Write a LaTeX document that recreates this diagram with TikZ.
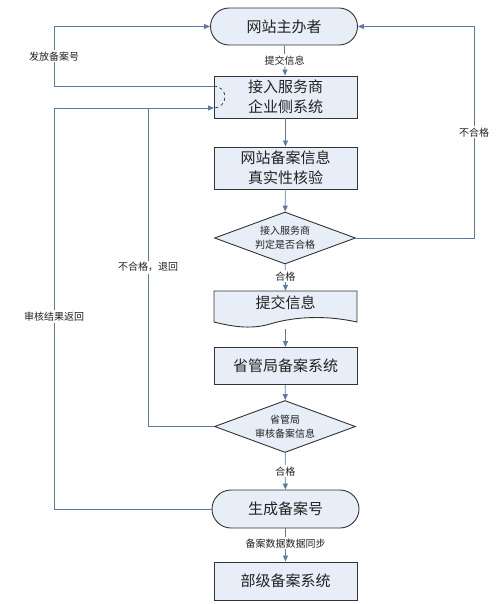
\documentclass[tikz,border=0pt]{standalone}
\usepackage{fontspec}
\setmainfont{Noto Sans CJK SC}
\usetikzlibrary{arrows.meta,shapes.geometric}
\definecolor{boxfill}{HTML}{E8EEF7}
\definecolor{edgecol}{HTML}{5B7BA6}
\definecolor{bordercol}{HTML}{333333}
\definecolor{txtcol}{HTML}{222222}
\tikzset{
  x=1pt,y=-1pt,
  base/.style={draw=bordercol,fill=boxfill,line width=0.9pt,inner sep=0pt,font=\fontsize{15}{20}\selectfont,align=center,text=txtcol},
  procbox/.style={base,rectangle,minimum width=143pt,minimum height=42pt},
  termbox/.style={base,rectangle,rounded corners=18.5pt,minimum width=147pt,minimum height=37pt},
  decbox/.style={base,diamond,aspect=2.75,minimum width=141pt,minimum height=52pt,font=\fontsize{10}{14}\selectfont},
  flow/.style={draw=edgecol,line width=0.8pt,-{Triangle[length=6pt,width=5pt,fill=edgecol]}},
  plain/.style={draw=edgecol,line width=0.8pt},
  lbl/.style={fill=white,inner sep=1.5pt,font=\fontsize{10}{12}\selectfont,text=txtcol}
}
\begin{document}
\begin{tikzpicture}
\useasboundingbox (0,0) rectangle (500,604);
\node[termbox] (t1) at (284,26.5) {网站主办者};
\node[procbox] (b1) at (285.5,97) {接入服务商\\企业侧系统};
\node[procbox] (b2) at (285.5,168) {网站备案信息\\真实性核验};
\node[decbox] (d1) at (285,238) {接入服务商\\判定是否合格};
% document shape
\node[inner sep=0pt,minimum width=143pt,minimum height=34pt] (doc) at (285.5,308) {};
\fill[boxfill] (214,291) -- (357,291) -- (357,322) .. controls (320,314) and (290,318) .. (270,324) .. controls (250,330) and (230,326) .. (214,322) -- cycle;
\draw[bordercol,line width=0.9pt] (214,291) -- (357,291) -- (357,322) .. controls (320,314) and (290,318) .. (270,324) .. controls (250,330) and (230,326) .. (214,322) -- cycle;
\node[font=\fontsize{15}{20}\selectfont,text=txtcol] (doct) at (285.5,303) {提交信息};
\node[procbox,minimum height=37pt] (b3) at (285.5,366) {省管局备案系统};
\node[decbox] (d2) at (285,426.5) {省管局\\审核备案信息};
\node[termbox,minimum height=38pt,rounded corners=19pt] (t2) at (285.5,509) {生成备案号};
\node[procbox,minimum height=38pt] (b4) at (285.5,581) {部级备案系统};

\coordinate (in1) at (214,108);
\coordinate (out1) at (214,86);
\coordinate (lx) at (54,0);
\coordinate (mx) at (148,0);
\coordinate (rx) at (474,0);

% dashed marker inside b1
\draw[bordercol,line width=0.7pt,dashed] (out1) arc[start angle=-90,end angle=90,radius=11];

% main chain
\draw[flow] (t1) -- node[lbl]{提交信息} (b1);
\draw[flow] (b1) -- (b2);
\draw[flow] (b2) -- (d1);
\draw[flow] (d1) -- node[lbl,pos=0.45]{合格} (doc.north);
\draw[flow] (doc.south) ++(0,4) -- (b3);
\draw[flow] (b3) -- (d2);
\draw[flow] (d2) -- node[lbl,pos=0.5]{合格} (t2);
\draw[flow] (t2) -- node[lbl,pos=0.45]{备案数据数据同步} (b4);

% loops
\draw[flow] (d1.east) -- (d1.east -| rx) |- node[lbl,pos=0.25]{不合格} (t1.east);
\draw[flow] (out1) -- (out1 -| lx) |- node[lbl,pos=0.25]{发放备案号} (t1.west);
\draw[plain] (d2.west) -- (d2.west -| mx) -- node[lbl,pos=0.5]{不合格，退回} (in1 -| mx);
\draw[flow] (t2.west) -- (t2.west -| lx) |- node[lbl,pos=0.24]{审核结果返回} (in1);
\end{tikzpicture}
\end{document}
